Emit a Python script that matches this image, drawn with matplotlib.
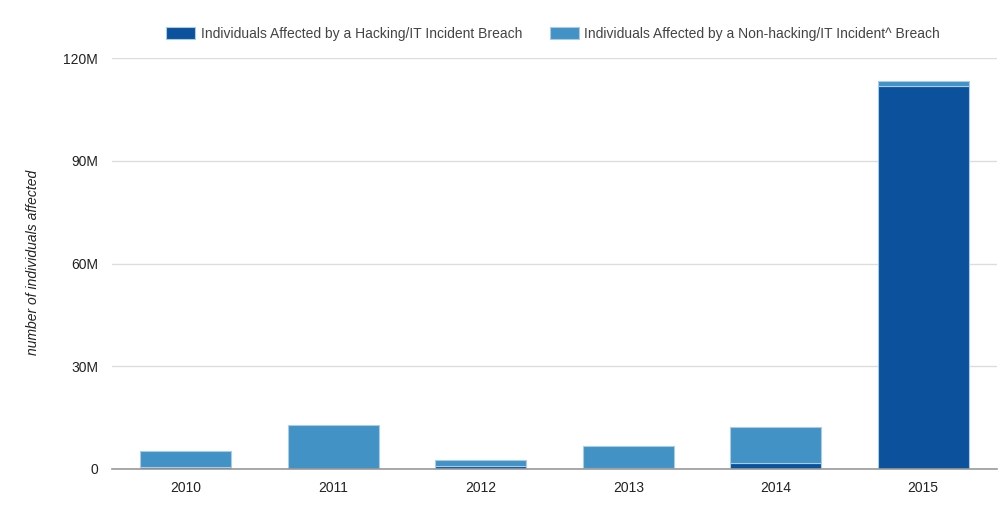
import matplotlib.pyplot as plt
import numpy as np

years = ['2010', '2011', '2012', '2013', '2014', '2015']
hacking = [0.5, 0.1, 0.9, 0.3, 1.7, 111.8]      # millions
non_hacking = [4.7, 12.7, 1.6, 6.4, 10.6, 1.5]  # millions
labels = ['Individuals Affected by a Hacking/IT Incident Breach',
          'Individuals Affected by a Non-hacking/IT Incident^ Breach']
yticks = [0, 30, 60, 90, 120]
ytick_labels = ['0', '30M', '60M', '90M', '120M']

plt.rcParams['font.family'] = ['Liberation Sans', 'DejaVu Sans']

fig = plt.figure(figsize=(10.01, 5.05), dpi=100)
ax = fig.add_axes([112 / 1001, 36 / 505, 885 / 1001, 411 / 505])

x = np.arange(len(years))
c1, c2 = '#0b519c', '#4292c6'
b1 = ax.bar(x, hacking, 0.62, color=c1, edgecolor='#a9cbe6', linewidth=0.8, label=labels[0])
b2 = ax.bar(x, non_hacking, 0.62, bottom=hacking, color=c2, edgecolor='#a9cbe6', linewidth=0.8, label=labels[1])

ax.set_xlim(-0.5, 5.5)
ax.set_ylim(0, 120)
ax.set_yticks(yticks)
ax.set_yticklabels(ytick_labels)
ax.set_xticks(x)
ax.set_xticklabels(years)
ax.tick_params(length=0, labelsize=10, colors='#222222')
ax.tick_params(axis='y', pad=10)
ax.tick_params(axis='x', pad=9)
ax.grid(axis='y', color='#dddddd', linewidth=1)
ax.set_axisbelow(True)
for s in ['top', 'right', 'left']:
    ax.spines[s].set_visible(False)
ax.spines['bottom'].set_color('#999999')
ax.spines['bottom'].set_linewidth(1.2)

fig.text(33 / 1001, 1 - 262 / 505, 'number of individuals affected', rotation=90, style='italic',
         fontsize=10, color='#222222', ha='center', va='center')

fig.legend(handles=[b1, b2], loc='center', bbox_to_anchor=(553 / 1001, 1 - 34 / 505),
           ncol=2, frameon=False, fontsize=10, handlelength=2.1, handleheight=1.0,
           handletextpad=0.4, columnspacing=2.0, labelcolor='#444444')

fig.savefig('out.png', dpi=100)
